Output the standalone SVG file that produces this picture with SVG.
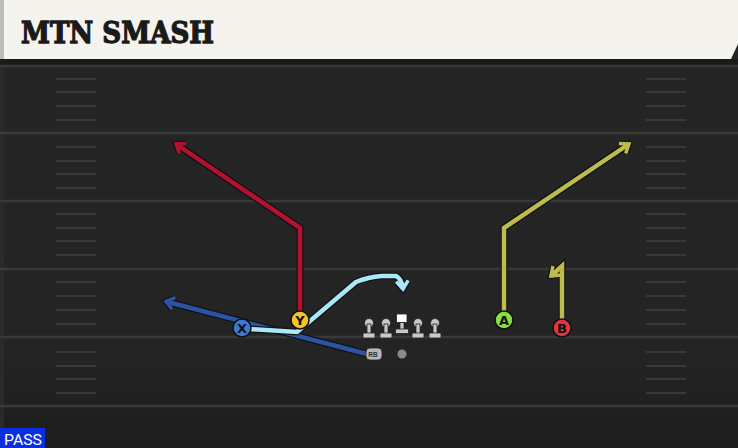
<svg xmlns="http://www.w3.org/2000/svg" width="738" height="448" viewBox="0 0 738 448">
<style>
.yard{stroke:#393939;stroke-width:2.5}
.hash{stroke:#393939;stroke-width:2}
.out{fill:none;stroke:#121212;stroke-width:7;stroke-linejoin:miter}
.rt{fill:none;stroke-width:4.5;stroke-linejoin:miter}
.pl{stroke:#111;stroke-width:1.5}
.lbl{font-family:"DejaVu Sans","Liberation Sans",sans-serif;font-weight:bold;font-size:13px;fill:#111;text-anchor:middle}
.ol{fill:#c8c8c8;stroke:#222;stroke-width:0.8}
</style>
<defs>
<marker id="mo" markerUnits="userSpaceOnUse" markerWidth="16" markerHeight="16" viewBox="0 0 16 16" refX="12" refY="8" orient="auto"><path d="M4,2 L12,8 L4,14" fill="none" stroke="#121212" stroke-width="6" stroke-linejoin="miter"/></marker>
<marker id="mr" markerUnits="userSpaceOnUse" markerWidth="16" markerHeight="16" viewBox="0 0 16 16" refX="12" refY="8" orient="auto"><path d="M4,2 L12,8 L4,14" fill="none" stroke="#b5112f" stroke-width="3.5"/></marker>
<marker id="mb" markerUnits="userSpaceOnUse" markerWidth="16" markerHeight="16" viewBox="0 0 16 16" refX="12" refY="8" orient="auto"><path d="M4,2 L12,8 L4,14" fill="none" stroke="#2d53a5" stroke-width="3.5"/></marker>
<marker id="ml" markerUnits="userSpaceOnUse" markerWidth="16" markerHeight="16" viewBox="0 0 16 16" refX="12" refY="8" orient="auto"><path d="M4,2 L12,8 L4,14" fill="none" stroke="#a9e8f7" stroke-width="3.5"/></marker>
<marker id="my" markerUnits="userSpaceOnUse" markerWidth="16" markerHeight="16" viewBox="0 0 16 16" refX="12" refY="8" orient="auto"><path d="M4,2 L12,8 L4,14" fill="none" stroke="#bcbc4c" stroke-width="3.5"/></marker>
<linearGradient id="fade" x1="0" y1="0" x2="0" y2="1"><stop offset="0" stop-color="#252525"/><stop offset="0.8" stop-color="#242424"/><stop offset="1" stop-color="#1d1d1d"/></linearGradient>
</defs>
<!-- field -->
<rect x="0" y="0" width="738" height="448" fill="url(#fade)"/>
<rect x="0" y="59" width="738" height="6" fill="#1a1a1a"/>
<rect x="0" y="65" width="4" height="383" fill="#2a2a2a"/>
<g id="yardlines">
<line class="yard" x1="0" y1="66" x2="738" y2="66"/>
<line class="yard" x1="0" y1="133" x2="738" y2="133"/>
<line class="yard" x1="0" y1="201" x2="738" y2="201"/>
<line class="yard" x1="0" y1="269" x2="738" y2="269"/>
<line class="yard" x1="0" y1="337" x2="738" y2="337"/>
<line class="yard" x1="0" y1="406" x2="738" y2="406"/>
</g>
<g id="hashes">
<path class="hash" d="M56,79H96M56,92H96M56,106H96M56,120H96M56,147H96M56,161H96M56,174H96M56,188H96M56,214H96M56,228H96M56,241H96M56,255H96M56,282H96M56,296H96M56,310H96M56,324H96M56,352H96M56,366H96M56,379H96M56,393H96"/>
<path class="hash" d="M646,79H686M646,92H686M646,106H686M646,120H686M646,147H686M646,161H686M646,174H686M646,188H686M646,214H686M646,228H686M646,241H686M646,255H686M646,282H686M646,296H686M646,310H686M646,324H686M646,352H686M646,366H686M646,379H686M646,393H686"/>
</g>
<!-- header -->
<g id="header">
<polygon points="0,0 738,0 738,44 731,59 0,59" fill="#f5f3ed"/>
<rect x="0" y="0" width="4" height="59" fill="#bdbdbb"/>
<text x="21" y="43" font-family="DejaVu Serif" font-weight="bold" font-size="29" fill="#1a1a1a" stroke="#1a1a1a" stroke-width="1.3" textLength="193" lengthAdjust="spacingAndGlyphs">MTN SMASH</text>
</g>
<!-- connectors -->
<g id="routes">
<path class="out" d="M367,354 L166,301.5" marker-end="url(#mo)"/>
<path class="rt" stroke="#2d53a5" d="M367,354 L166,301.5" marker-end="url(#mb)"/>
<path class="out" d="M300,320 L300,228 L176,144" marker-end="url(#mo)"/>
<path class="rt" stroke="#b5112f" d="M300,320 L300,228 L176,144" marker-end="url(#mr)"/>
<path class="out" d="M250,329 L297,332 L310,321 L356,282 Q368,277 382,276 L396,276 Q402,279 403,289" marker-end="url(#mo)"/>
<path class="rt" stroke="#a9e8f7" d="M250,329 L297,332 L310,321 L356,282 Q368,277 382,276 L396,276 Q402,279 403,289" marker-end="url(#ml)"/>
<path class="out" d="M504,320 L504,228 L629,144" marker-end="url(#mo)"/>
<path class="rt" stroke="#bcbc4c" d="M504,320 L504,228 L629,144" marker-end="url(#my)"/>
<path class="out" d="M562,328 L562,266 L551,276" marker-end="url(#mo)"/>
<path class="rt" stroke="#bcbc4c" d="M562,328 L562,266 L551,276" marker-end="url(#my)"/>
</g>
<!-- offensive line -->
<g id="lt"><circle class="ol" cx="369" cy="323" r="4.5"/><rect class="ol" x="367" y="324" width="4" height="10"/><rect class="ol" x="363" y="333" width="12" height="5" rx="1"/></g>
<g id="lg"><circle class="ol" cx="386" cy="323" r="4.5"/><rect class="ol" x="384" y="324" width="4" height="10"/><rect class="ol" x="380" y="333" width="12" height="5" rx="1"/></g>
<g id="c"><rect x="396.5" y="314" width="10.5" height="8.5" fill="#fafafa" stroke="#222" stroke-width="0.8"/><rect class="ol" x="400" y="322.5" width="4" height="7.5"/><rect class="ol" x="395.5" y="329" width="13" height="4.5" rx="1"/></g>
<g id="rg"><circle class="ol" cx="418" cy="323" r="4.5"/><rect class="ol" x="416" y="324" width="4" height="10"/><rect class="ol" x="412" y="333" width="12" height="5" rx="1"/></g>
<g id="rt"><circle class="ol" cx="435" cy="323" r="4.5"/><rect class="ol" x="433" y="324" width="4" height="10"/><rect class="ol" x="429" y="333" width="12" height="5" rx="1"/></g>
<!-- backs -->
<g id="rb"><rect x="366" y="348" width="16" height="12" rx="4" fill="#b8b8b8" stroke="#222" stroke-width="0.8"/><text x="373" y="357" font-family="Liberation Sans, sans-serif" font-weight="bold" font-size="6.5" fill="#333" text-anchor="middle">RB</text></g>
<g id="qb"><circle cx="402" cy="354" r="4.5" fill="#8a8a8a"/></g>
<!-- receivers -->
<g id="x"><circle class="pl" cx="242" cy="328" r="9" fill="#3d78d8"/><text class="lbl" x="242" y="332.7">X</text></g>
<g id="y"><circle class="pl" cx="300" cy="320" r="9" fill="#f5c42c"/><text class="lbl" x="300" y="324.7">Y</text></g>
<g id="a"><circle class="pl" cx="504" cy="320" r="9" fill="#86df3e"/><text class="lbl" x="504" y="324.7">A</text></g>
<g id="b"><circle class="pl" cx="562" cy="328" r="9" fill="#e23442"/><text class="lbl" x="562" y="332.7">B</text></g>
<!-- tag -->
<g id="pass"><rect x="0" y="428" width="45" height="20" fill="#0b2fe0"/><text x="4" y="445" font-family="Roboto, Liberation Sans, sans-serif" font-size="15" fill="#ffffff" textLength="38" lengthAdjust="spacingAndGlyphs">PASS</text></g>
</svg>
